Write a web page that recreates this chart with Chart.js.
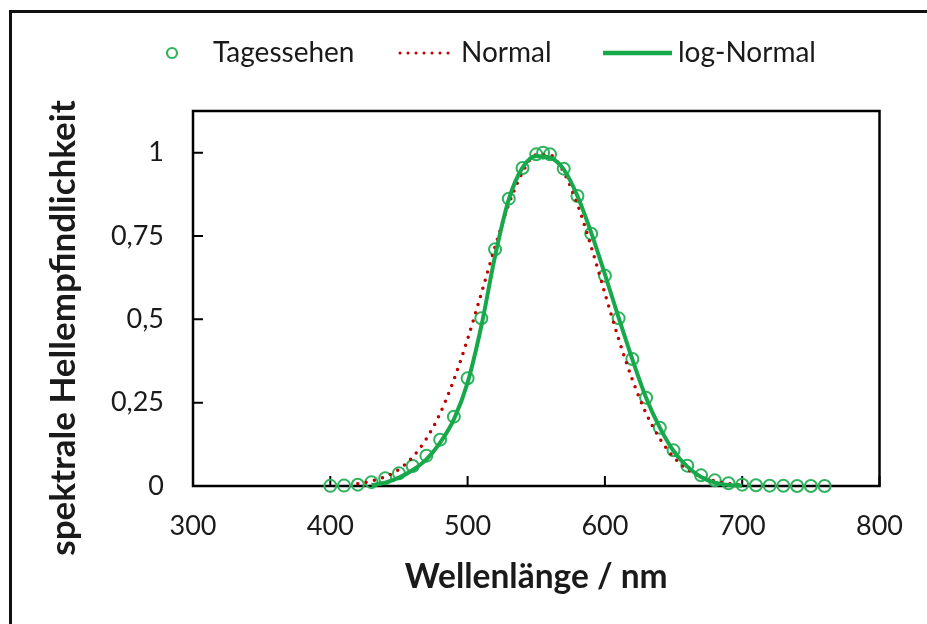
<!DOCTYPE html>
<html>
<head>
<meta charset="utf-8">
<title>Hellempfindlichkeit</title>
<script src="https://cdn.jsdelivr.net/npm/chart.js@4.4.0/dist/chart.umd.min.js"></script>
<style>
  body { margin: 0; background: #fff; overflow: hidden; }
  #wrap { position: relative; width: 927px; height: 624px; }
  #frame { position: absolute; left: 9px; top: 10px; width: 1000px; height: 700px;
           border-left: 3px solid #111; border-top: 3px solid #111; }
  #wrap canvas { position: absolute; left: 0; top: 0; }
</style>
</head>
<body>
<div id="wrap">
  <div id="frame"></div>
  <canvas id="chart" width="927" height="624"></canvas>
</div>
<script>
// Messwerte Tagessehen (V-lambda)
const wavelengths = [400, 410, 420, 430, 440, 450, 460, 470, 480, 490, 500, 510, 520, 530, 540,
                     550, 555, 560, 570, 580, 590, 600, 610, 620, 630, 640, 650, 660, 670, 680,
                     690, 700, 710, 720, 730, 740, 750, 760];
const tagessehen = [0.0004, 0.0012, 0.004, 0.0116, 0.023, 0.038, 0.06, 0.091, 0.139, 0.208, 0.323,
                    0.503, 0.71, 0.862, 0.954, 0.995, 1.0, 0.995, 0.952, 0.87, 0.757, 0.631, 0.503,
                    0.381, 0.265, 0.175, 0.107, 0.061, 0.032, 0.017, 0.0082, 0.0041, 0.0021, 0.001,
                    0.0005, 0.0002, 0.0001, 0.0001];

// Anpassung Normalverteilung
const normalNm = [420, 430, 440, 450, 460, 470, 480, 490, 500, 510, 520, 530, 540, 550, 560,
                  570, 580, 590, 600, 610, 620, 630, 640, 650, 660, 670, 680, 690, 700];
const normalValues = [0.007, 0.015, 0.028, 0.05, 0.087, 0.142, 0.218, 0.319, 0.441, 0.578, 0.718,
                      0.845, 0.941, 0.993, 0.993, 0.941, 0.845, 0.718, 0.578, 0.441, 0.319, 0.218,
                      0.142, 0.087, 0.05, 0.028, 0.015, 0.007, 0.003];

// Anpassung log-Normalverteilung
const logNormalNm = [430, 440, 450, 460, 470, 480, 490, 500, 510, 520, 530, 540, 550, 560,
                     570, 580, 590, 600, 610, 620, 630, 640, 650, 660, 670, 680, 690, 700];
const logNormalValues = [0.002, 0.01, 0.025, 0.048, 0.08, 0.13, 0.2, 0.31, 0.48, 0.69, 0.86, 0.955,
                         0.99, 0.985, 0.95, 0.87, 0.76, 0.635, 0.505, 0.38, 0.265, 0.175, 0.105,
                         0.058, 0.027, 0.01, 0.003, 0.001];

const seriesNames = ['Tagessehen', 'Normal', 'log-Normal'];
const xTicks = [300, 400, 500, 600, 700, 800];
const yTicks = [0, 0.25, 0.5, 0.75, 1];
const xTitle = 'Wellenlänge / nm';
const yTitle = 'spektrale Hellempfindlichkeit';

const textColor = '#1a1a1a';
const circleColor = '#2db35c';
const lineGreen = '#16a84a';
const dotRed = '#c00000';

function toPoints(xs, ys) {
    return xs.map((x, i) => ({ x: x, y: ys[i] }));
}

// plot box, inward tick marks, axis titles
const framePlugin = {
    id: 'frame',
    beforeDatasetsDraw(chart) {
        const { ctx, chartArea: a, scales } = chart;
        ctx.save();
        ctx.strokeStyle = '#000';
        ctx.lineWidth = 2.5;
        ctx.strokeRect(a.left, a.top, a.right - a.left, a.bottom - a.top);
        ctx.lineWidth = 2;
        ctx.beginPath();
        xTicks.forEach(v => {
            const px = scales.x.getPixelForValue(v);
            ctx.moveTo(px, a.bottom);
            ctx.lineTo(px, a.bottom - 10);
        });
        yTicks.forEach(v => {
            const py = scales.y.getPixelForValue(v);
            ctx.moveTo(a.left, py);
            ctx.lineTo(a.left + 10, py);
        });
        ctx.stroke();
        ctx.restore();
    },
    afterDraw(chart) {
        const { ctx, chartArea: a } = chart;
        ctx.save();
        ctx.fillStyle = textColor;
        ctx.textAlign = 'center';
        ctx.textBaseline = 'middle';
        ctx.font = 'bold 33.5px Lato';
        ctx.fillText(xTitle, (a.left + a.right) / 2, 577);
        ctx.font = 'bold 35px Lato';
        ctx.translate(64, 328);
        ctx.rotate(-Math.PI / 2);
        ctx.fillText(yTitle, 0, 0);
        ctx.restore();
    }
};

// legend drawn like the Excel one
const legendPlugin = {
    id: 'legendRow',
    afterDraw(chart) {
        const ctx = chart.ctx;
        const y = 53;
        ctx.save();
        ctx.beginPath();
        ctx.arc(172, y, 5, 0, Math.PI * 2);
        ctx.lineWidth = 2.2;
        ctx.strokeStyle = circleColor;
        ctx.stroke();

        ctx.beginPath();
        ctx.setLineDash([0, 8]);
        ctx.lineCap = 'round';
        ctx.lineWidth = 3;
        ctx.strokeStyle = dotRed;
        ctx.moveTo(400, y);
        ctx.lineTo(456, y);
        ctx.stroke();

        ctx.beginPath();
        ctx.setLineDash([]);
        ctx.lineCap = 'butt';
        ctx.lineWidth = 4.5;
        ctx.strokeStyle = lineGreen;
        ctx.moveTo(603, y);
        ctx.lineTo(672, y);
        ctx.stroke();

        ctx.font = '28px Lato';
        ctx.fillStyle = textColor;
        ctx.textAlign = 'left';
        ctx.textBaseline = 'middle';
        ctx.fillText(seriesNames[0], 213, y);
        ctx.fillText(seriesNames[1], 461, y);
        ctx.fillText(seriesNames[2], 678, y);
        ctx.restore();
    }
};

new Chart(document.getElementById('chart'), {
    type: 'line',
    data: {
        datasets: [{
            label: seriesNames[0],
            data: toPoints(wavelengths, tagessehen),
            showLine: false,
            pointStyle: 'circle',
            pointRadius: 6,
            pointBorderWidth: 2,
            pointBorderColor: circleColor,
            pointBackgroundColor: 'rgba(0,0,0,0)',
            clip: false,
            order: 3
        }, {
            label: seriesNames[1],
            data: toPoints(normalNm, normalValues),
            borderColor: dotRed,
            borderWidth: 3.5,
            borderDash: [0, 8.5],
            borderCapStyle: 'round',
            cubicInterpolationMode: 'monotone',
            pointRadius: 0,
            clip: false,
            order: 2
        }, {
            label: seriesNames[2],
            data: toPoints(logNormalNm, logNormalValues),
            borderColor: lineGreen,
            borderWidth: 4,
            cubicInterpolationMode: 'monotone',
            pointRadius: 0,
            clip: false,
            order: 1
        }]
    },
    options: {
        responsive: false,
        animation: false,
        layout: { padding: { top: 111, right: 43, left: 0, bottom: 0 } },
        plugins: {
            legend: { display: false },
            tooltip: { enabled: false }
        },
        scales: {
            x: {
                type: 'linear',
                min: 300,
                max: 800,
                afterFit: s => { s.height = 138; },
                afterBuildTicks: s => { s.ticks = xTicks.map(v => ({ value: v })); },
                grid: { display: false, drawTicks: false },
                border: { display: false },
                ticks: {
                    padding: 24,
                    color: textColor,
                    font: { family: 'Lato', size: 27 },
                    maxRotation: 0
                }
            },
            y: {
                min: 0,
                max: 1.125,
                afterFit: s => { s.width = 193; },
                afterBuildTicks: s => { s.ticks = yTicks.map(v => ({ value: v })); },
                grid: { display: false, drawTicks: false },
                border: { display: false },
                ticks: {
                    padding: 29,
                    color: textColor,
                    font: { family: 'Lato', size: 27 },
                    callback: v => String(v).replace('.', ',')
                }
            }
        }
    },
    plugins: [framePlugin, legendPlugin]
});
</script>
</body>
</html>
